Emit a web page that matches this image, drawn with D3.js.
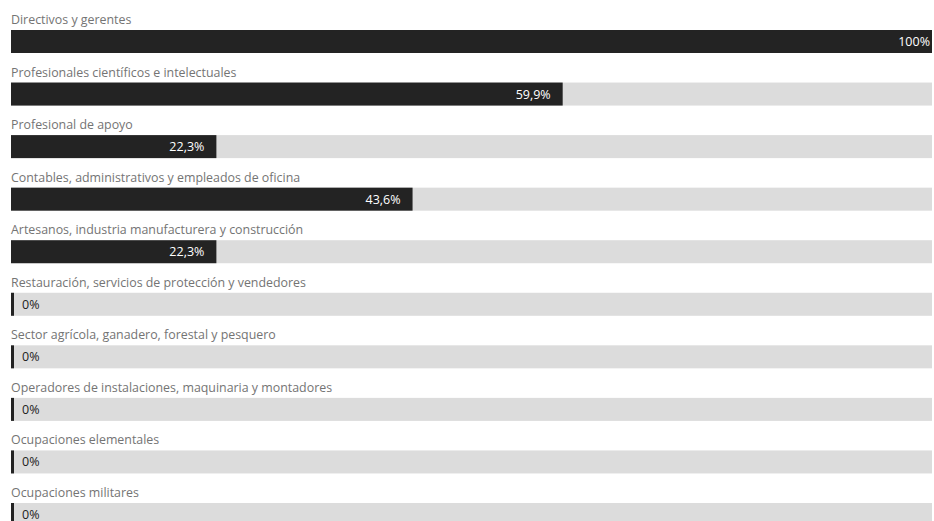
<!DOCTYPE html>
<html>
<head>
<meta charset="utf-8">
<script src="https://cdn.jsdelivr.net/npm/d3@7"></script>
<style>
  body { margin: 0; background: #fff; }
  svg { display: block; }
</style>
</head>
<body>
<div id="chart"></div>
<script>
const categories = [
  'Directivos y gerentes',
  'Profesionales científicos e intelectuales',
  'Profesional de apoyo',
  'Contables, administrativos y empleados de oficina',
  'Artesanos, industria manufacturera y construcción',
  'Restauración, servicios de protección y vendedores',
  'Sector agrícola, ganadero, forestal y pesquero',
  'Operadores de instalaciones, maquinaria y montadores',
  'Ocupaciones elementales',
  'Ocupaciones militares'
];
const values = [100, 59.9, 22.3, 43.6, 22.3, 0, 0, 0, 0, 0];
const valueLabels = ['100%', '59,9%', '22,3%', '43,6%', '22,3%', '0%', '0%', '0%', '0%', '0%'];

const width = 934;
const height = 521;
const margin = { left: 11, right: 2 };
const barH = 23;

const svg = d3.select('#chart')
  .append('svg')
  .attr('width', width)
  .attr('height', height);

const x = d3.scaleLinear()
  .domain([0, 100])
  .range([margin.left, width - margin.right]);

// row top = bar top
const y = d3.scalePoint()
  .domain(d3.range(categories.length))
  .range([30, 503]);

const rows = svg.selectAll('g.row')
  .data(categories)
  .join('g')
  .attr('class', 'row')
  .attr('transform', (d, i) => `translate(0,${y(i)})`);

// background track
rows.append('rect')
  .attr('x', x(0))
  .attr('y', 0)
  .attr('width', x(100) - x(0))
  .attr('height', barH)
  .attr('fill', '#dcdcdc');

// value bar (min width so 0 shows a stub)
rows.append('rect')
  .attr('x', x(0))
  .attr('y', 0)
  .attr('width', (d, i) => Math.max(3, x(values[i]) - x(0)))
  .attr('height', barH)
  .attr('fill', '#232323');

// category label
rows.append('text')
  .attr('x', x(0))
  .attr('y', -6)
  .attr('font-family', '"Open Sans", sans-serif')
  .attr('font-size', '12.4px')
  .attr('fill', '#747474')
  .text((d) => d);

// value label: inside the bar end, or after the stub for small values
function labelX(v) {
  if (v <= 5) return x(0) + 11;
  if (x(v) >= x(100) - 1) return x(100) - 2;
  return x(v) - 12;
}

rows.append('text')
  .attr('x', (d, i) => labelX(values[i]))
  .attr('y', barH / 2 + 4.5)
  .attr('text-anchor', (d, i) => values[i] > 5 ? 'end' : 'start')
  .attr('font-family', '"Open Sans", sans-serif')
  .attr('font-size', '12.5px')
  .attr('fill', (d, i) => values[i] > 5 ? '#fff' : '#222')
  .text((d, i) => valueLabels[i]);
</script>
</body>
</html>
